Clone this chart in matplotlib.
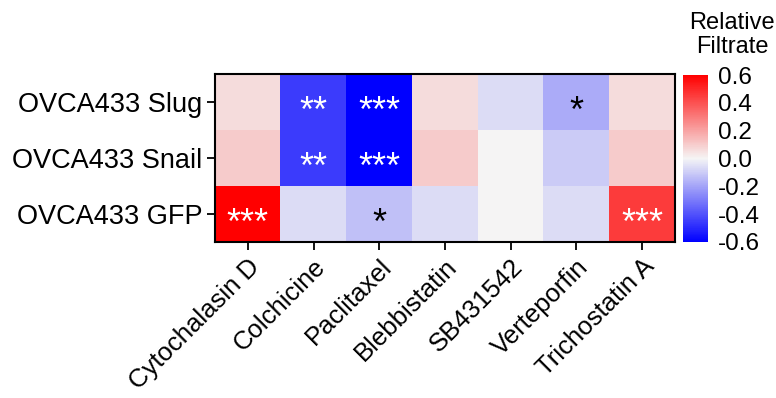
import numpy as np
import matplotlib.pyplot as plt
from matplotlib.colors import LinearSegmentedColormap

plt.rcParams['font.family'] = ['Liberation Sans', 'DejaVu Sans']

drugs = ['Cytochalasin D', 'Colchicine', 'Paclitaxel', 'Blebbistatin',
         'SB431542', 'Verteporfin', 'Trichostatin A']
lines = ['OVCA433 Slug', 'OVCA433 Snail', 'OVCA433 GFP']

# relative filtrate, rows = lines
values = np.array([
    [0.06, -0.45, -0.60, 0.06, -0.06, -0.18, 0.06],
    [0.10, -0.45, -0.60, 0.10, 0.00, -0.10, 0.10],
    [0.60, -0.06, -0.13, -0.06, 0.00, -0.06, 0.45],
])
stars = [
    ['', '**', '***', '', '', '*', ''],
    ['', '**', '***', '', '', '', ''],
    ['***', '', '*', '', '', '', '***'],
]

cmap = LinearSegmentedColormap.from_list('bwr2', ['#0000ff', '#f5f5f5', '#ff0000'], N=256)

fig = plt.figure(figsize=(7.76, 3.98), dpi=100)
ax = fig.add_axes([215 / 776, 1 - 242 / 398, 460 / 776, 168 / 398])
im = ax.imshow(values, cmap=cmap, vmin=-0.6, vmax=0.6, aspect='auto')

for i in range(len(lines)):
    for j in range(len(drugs)):
        s = stars[i][j]
        if s:
            col = 'white' if abs(values[i][j]) > 0.3 else 'black'
            ax.text(j, i + 0.19, s, ha='center', va='center', color=col, fontsize=26)

ax.set_xticks(range(len(drugs)))
ax.set_xticklabels(drugs, rotation=45, ha='right', rotation_mode='anchor', fontsize=18.5)
ax.set_yticks(range(len(lines)))
ax.set_yticklabels(lines, fontsize=19.5)
ax.tick_params(length=6, width=1.3, pad=3)
for sp in ax.spines.values():
    sp.set_linewidth(1.5)

cax = fig.add_axes([683 / 776, 1 - 242 / 398, 25 / 776, 167 / 398])
cb = fig.colorbar(im, cax=cax, ticks=[-0.6, -0.4, -0.2, 0.0, 0.2, 0.4, 0.6])
cb.outline.set_visible(False)
cb.ax.tick_params(length=0, labelsize=17.5, pad=7)
cb.ax.set_yticklabels(['-0.6', '-0.4', '-0.2', '0.0', '0.2', '0.4', '0.6'])
fig.text(732 / 776, 1 - 35 / 398, 'Relative\nFiltrate', ha='center', va='center',
         fontsize=17, linespacing=1.1)

fig.savefig('out.png', dpi=100)
